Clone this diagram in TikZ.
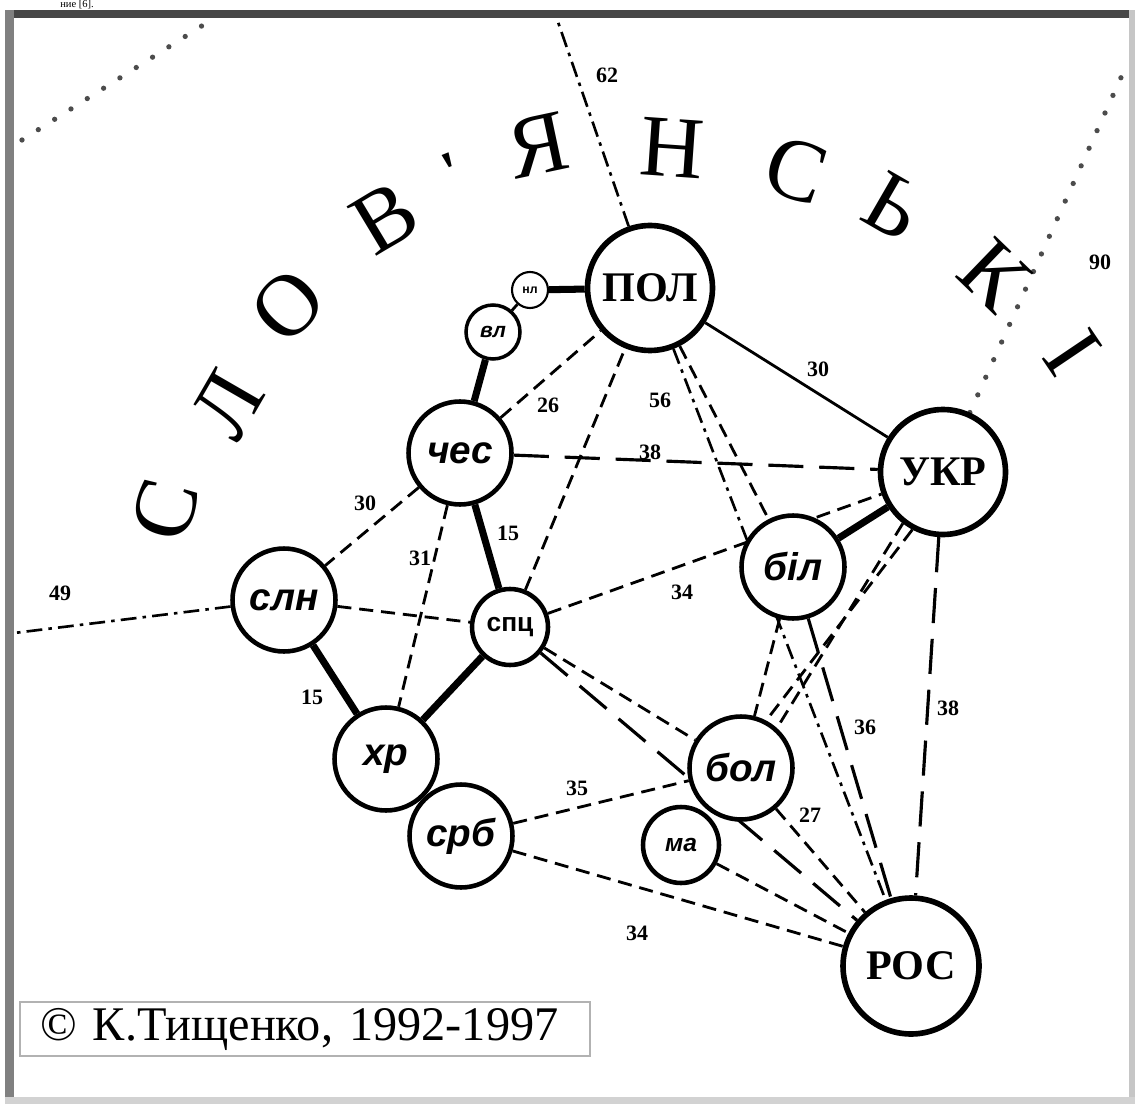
\documentclass[tikz,border=0pt]{standalone}
\usepackage{fontspec}
\setmainfont{Liberation Serif}
\newfontfamily\lblfont{Liberation Sans}
\usetikzlibrary{positioning}
\pgfdeclarelayer{back}
\pgfdeclarelayer{bg}
\pgfsetlayers{back,bg,main}

\begin{document}
\begin{tikzpicture}[
    x=0.02cm, y=-0.02cm,
    big/.style={circle, draw, fill=white, line width=3.2pt, minimum size=2.5cm, inner sep=0pt, font=\fontsize{24}{24}\selectfont\bfseries},
    mid/.style={circle, draw, fill=white, line width=2.6pt, minimum size=2.06cm, inner sep=0pt, font=\lblfont\fontsize{22}{22}\selectfont\bfseries\itshape},
    sml/.style={mid, minimum size=1.52cm, font=\lblfont\fontsize{15}{15}\selectfont\bfseries},
    wee/.style={mid, minimum size=1.08cm, line width=2pt, font=\lblfont\fontsize{12}{12}\selectfont\bfseries\itshape},
    arcl/.style={font=\fontsize{50}{50}\selectfont, inner sep=0pt},
    num/.style={font=\fontsize{12.5}{12.5}\selectfont\bfseries, inner sep=1pt},
    thk/.style={line width=4pt},
    thn/.style={line width=1.6pt},
    dsh/.style={line width=1.6pt, dash pattern=on 8pt off 4.5pt},
    ldsh/.style={line width=1.8pt, dash pattern=on 20pt off 9pt},
    ddot/.style={line width=1.5pt, dash pattern=on 9pt off 3.5pt on 2pt off 3.5pt},
    dots/.style={line width=3pt, line cap=round, dash pattern=on 0pt off 11pt, black!70},
]
    \begin{pgfonlayer}{back}
        \fill[white] (0,0) rectangle (1135,1104);
    \end{pgfonlayer}
    \useasboundingbox (0,0) rectangle (1135,1104);

    % frame
    \fill[gray!55!black] (5,10) rectangle (1135,18);
    \fill[gray] (5,10) rectangle (14,1104);
    \fill[gray!45] (1129,10) rectangle (1135,1104);
    \fill[gray!35] (5,1097) rectangle (1135,1104);
    \node[anchor=base west, font=\fontsize{6}{6}\selectfont, inner sep=0pt] (frag) at (60,7.5) {ние [6].};

    % languages
    \node[big] (pol) at (650,288) {ПОЛ};
    \node[big] (ukr) at (943,472) {УКР};
    \node[big, minimum size=2.72cm] (ros) at (911,966) {РОС};
    \node[mid] (ches) at (460,453) {чес};
    \node[mid] (sln) at (284,600) {слн};
    \node[sml] (spc) at (510,627) {спц};
    \node[mid] (bil) at (793,567) {біл};
    \node[mid] (khr) at (386,759) {хр};
    \node[mid] (bol) at (741,768) {бол};
    \node[mid] (srb) at (461,836) {срб};
    \node[sml, font=\lblfont\fontsize{14}{14}\selectfont\bfseries\itshape] (ma) at (681,845) {ма};
    \node[wee] (vl) at (493,332) {вл};
    \node[wee, minimum size=0.72cm, line width=1.2pt, font=\lblfont\fontsize{7}{7}\selectfont\bfseries] (nl) at (530,290) {нл};

    \coordinate (c62) at (558,22);
    \coordinate (c90) at (1128,62);
    \coordinate (c49) at (14,633);
    \coordinate (tl1) at (22,140);
    \coordinate (tl2) at (208,22);

    \begin{pgfonlayer}{bg}
        \draw[thk] (nl) -- (pol);
        \draw[thk] (vl) -- (ches);
        \draw[thk] (ches) -- (spc);
        \draw[thk] (sln) -- (khr);
        \draw[thk] (spc) -- (khr);
        \draw[thk] (bil) -- (ukr);
        \draw[thn] (nl) -- (vl);
        \draw[thn] (pol) -- (ukr);

        \draw[dsh] (ches) -- (pol);
        \draw[dsh] (ches) -- (sln);
        \draw[dsh] (ches) -- (khr);
        \draw[dsh] (sln) -- (spc);
        \draw[dsh] (spc) -- (pol);
        \draw[dsh] (spc) -- (ukr);
        \draw[dsh] (spc) -- (bol);
        \draw[dsh] (pol) -- (bil);
        \draw[dsh] (bil) -- (bol);
        \draw[dsh] (ukr.-128) -- (bol.48);
        \draw[dsh] (ukr.-118) -- (bol.62);
        \draw[dsh] (bol) -- (ros);
        \draw[dsh] (ma) -- (ros);
        \draw[dsh] (srb) -- (ros);
        \draw[dsh] (srb) -- (bol);

        \draw[ldsh] (ches) -- (ukr);
        \draw[ldsh] (spc) -- (ros);
        \draw[ldsh] (bil) -- (ros);
        \draw[ldsh] (ukr) -- (ros);

        \draw[ddot] (pol) -- (ros);
        \draw[ddot] (pol) -- (c62);
        \draw[ddot] (sln) -- (c49);

        \draw[dots] (ukr) -- (c90);
        \draw[dots] (tl1) -- (tl2);
    \end{pgfonlayer}

    % distances
    \node[num] (l62) at (607,75) {62};
    \node[num] (l90) at (1100,262) {90};
    \node[num] (l49) at (60,593) {49};
    \node[num] (l26) at (548,405) {26};
    \node[num] (l56) at (660,400) {56};
    \node[num] (l30a) at (818,369) {30};
    \node[num] (l38a) at (650,452) {38};
    \node[num] (l30b) at (365,503) {30};
    \node[num] (l31) at (420,558) {31};
    \node[num] (l15a) at (508,533) {15};
    \node[num] (l34a) at (682,592) {34};
    \node[num] (l15b) at (312,697) {15};
    \node[num] (l35) at (577,788) {35};
    \node[num] (l27) at (810,815) {27};
    \node[num] (l36) at (865,727) {36};
    \node[num] (l38b) at (948,708) {38};
    \node[num] (l34b) at (637,933) {34};

    % arc title
    \node[arcl, rotate=75] (a1) at (165,510) {С};
    \node[arcl, rotate=60] (a2) at (228,405) {Л};
    \node[arcl, rotate=46] (a3) at (288,306) {О};
    \node[arcl, rotate=31] (a4) at (385,218) {В};
    \node[arcl, rotate=22, font=\fontsize{34}{34}\selectfont\bfseries] (a5) at (453,172) {\textquotesingle};
    \node[arcl, rotate=12] (a6) at (538,145) {Я};
    \node[arcl, rotate=-4] (a7) at (672,148) {Н};
    \node[arcl, rotate=-18] (a8) at (796,170) {С};
    \node[arcl, rotate=-30] (a9) at (894,206) {Ь};
    \node[arcl, rotate=-44] (a10) at (995,275) {К};
    \node[arcl, rotate=-56] (a11) at (1073,353) {І};

    \node[draw=gray!60, line width=1.2pt, fill=white, text width=10.6cm, inner xsep=0.4cm, minimum height=0.84cm, align=left, font=\fontsize{27.5}{27.5}\selectfont] (copy) at (305,1029) {© К.Тищенко, 1992-1997};
\end{tikzpicture}
\end{document}
